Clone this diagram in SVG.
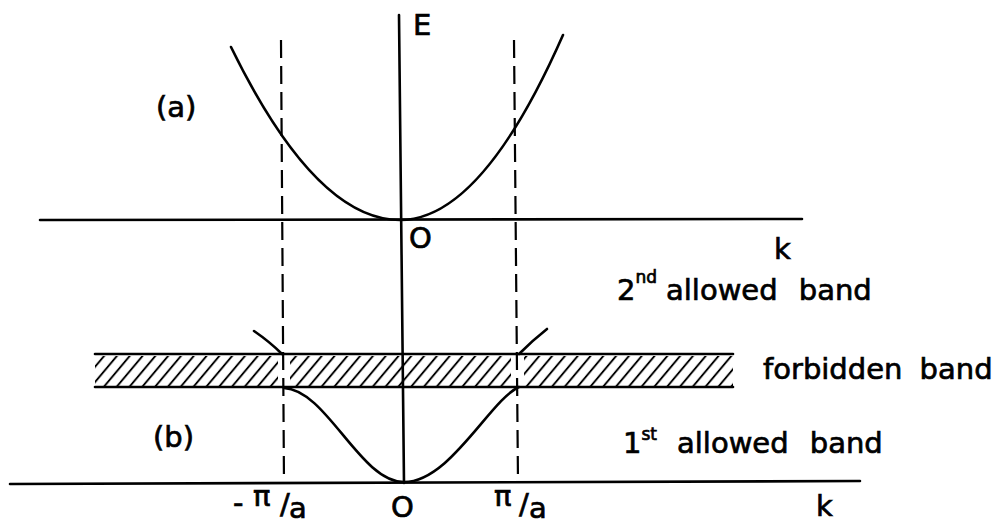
<svg xmlns="http://www.w3.org/2000/svg" width="995" height="525" viewBox="0 0 995 525">
  <style>
    .ln { stroke: #000; stroke-width: 2.6; fill: none; stroke-linecap: round; }
    .dash { stroke: #000; stroke-width: 2.2; fill: none; stroke-dasharray: 18 8; }
    .t { font-family: "DejaVu Sans", "Liberation Sans", sans-serif; font-size: 29px; fill: #000; stroke: #000; stroke-width: 0.7; }
  </style>
  <defs>
    <pattern id="hatch" patternUnits="userSpaceOnUse" width="12.8" height="60" patternTransform="skewX(-40)">
      <line x1="6" y1="-10" x2="6" y2="70" stroke="#000" stroke-width="2.5"/>
    </pattern>
  </defs>
  <rect width="995" height="525" fill="#fff"/>

  <g id="axes">
    <line class="ln" x1="399" y1="15" x2="404" y2="483"/>
    <line class="ln" x1="40" y1="220" x2="802" y2="219"/>
    <line class="ln" x1="10" y1="484" x2="860" y2="481"/>
  </g>

  <g id="zone-boundaries">
    <line class="dash" x1="281" y1="40" x2="284" y2="483"/>
    <line class="dash" x1="514" y1="40" x2="518" y2="482"/>
  </g>

  <g id="free-electron-curve">
    <path class="ln" d="M231,47 Q315.5,220 400,220 Q481.5,220 563,35"/>
  </g>

  <g id="forbidden-band">
    <rect x="95" y="356" width="183" height="30" fill="url(#hatch)"/>
    <rect x="290" y="356" width="221" height="30" fill="url(#hatch)"/>
    <rect x="524" y="356" width="209" height="30" fill="url(#hatch)"/>
    <line class="ln" x1="95" y1="354" x2="733" y2="354"/>
    <line class="ln" x1="95" y1="387" x2="733" y2="387"/>
  </g>

  <g id="band-curves">
    <path class="ln" d="M254,331 Q270,342 282,354"/>
    <path class="ln" d="M519,354 Q533,340 547,329"/>
    <path class="ln" d="M284,388 C327,390 360,482 404,482 C450,482 490,400 519,387"/>
  </g>

  <g id="labels">
    <text class="t" x="413" y="35" font-size="33">E</text>
    <text class="t" x="156" y="117" font-size="30">(a)</text>
    <text class="t" x="153" y="447" font-size="30">(b)</text>
    <text class="t" x="409" y="248" font-size="25">O</text>
    <text class="t" x="774" y="259">k</text>
    <text class="t" x="617" y="300">2<tspan dy="-17" font-size="17">nd</tspan> <tspan x="666" y="300" word-spacing="12">allowed band</tspan></text>
    <text class="t" x="763" y="379" word-spacing="8">forbidden band</text>
    <text class="t" x="623" y="453">1<tspan dy="-13" font-size="17">st</tspan> <tspan x="677" y="453" word-spacing="12">allowed band</tspan></text>
    <text class="t" x="233" y="513">-<tspan x="253" y="506">π</tspan><tspan x="280" y="514">/</tspan><tspan x="289" y="518">a</tspan></text>
    <text class="t" x="391" y="517" font-size="32">O</text>
    <text class="t" x="494" y="506">π<tspan x="519" y="514">/</tspan><tspan x="529" y="518">a</tspan></text>
    <text class="t" x="816" y="516">k</text>
  </g>
</svg>
